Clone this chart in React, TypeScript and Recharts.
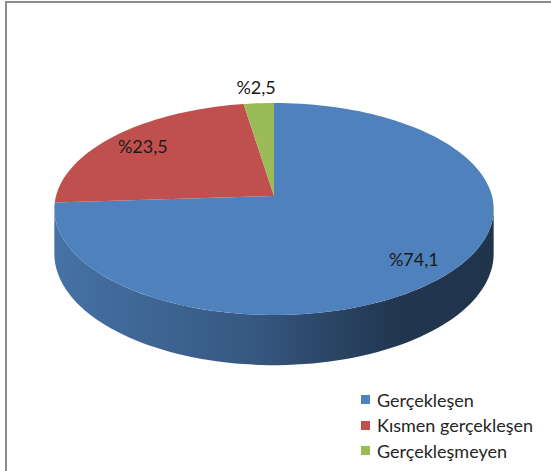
import React from 'react';
import { PieChart, Pie, Cell, Legend } from 'recharts';

const categories = ['Gerçekleşen', 'Kısmen gerçekleşen', 'Gerçekleşmeyen'];
const values = [74.1, 23.5, 2.5];
const colors = ['#4F81BD', '#C0504D', '#9BBB59'];

const data = categories.map((name, i) => ({ name, value: values[i], color: colors[i] }));

// fake 3d view: squash + a little perspective
const TILT = 0.479;
const PERSP = 0.1226;
const DEPTH = 44;
const FONT = 'Lato, "Open Sans", sans-serif';

// theta in degrees, clockwise from 12 o'clock
const project = (cx: number, cy: number, r: number, theta: number, f = 1, drop = 0) => {
  const t = (theta * Math.PI) / 180;
  const d = f * Math.cos(t);
  const k = 1 / (1 + PERSP * d);
  return [cx + r * f * Math.sin(t) * k, cy - r * TILT * d * k + drop * k];
};

const shade = (hex: string, m: number) => {
  const n = parseInt(hex.slice(1), 16);
  const c = [(n >> 16) & 255, (n >> 8) & 255, n & 255].map((v) => Math.round(v * m));
  return `rgb(${c.join(',')})`;
};

const arcPoints = (cx: number, cy: number, r: number, a: number, b: number, drop = 0) => {
  const steps = Math.max(2, Math.ceil(Math.abs(b - a) / 2));
  const pts: number[][] = [];
  for (let i = 0; i <= steps; i++) {
    pts.push(project(cx, cy, r, a + ((b - a) * i) / steps, 1, drop));
  }
  return pts;
};

const Slice3D = (props: any) => {
  const { cx, cy, outerRadius, startAngle, endAngle, fill, index } = props;
  const t0 = 90 - startAngle;
  const t1 = 90 - endAngle;
  const top = arcPoints(cx, cy, outerRadius, t0, t1);
  const topPath =
    `M${cx},${cy} ` + top.map((p) => `L${p[0].toFixed(2)},${p[1].toFixed(2)}`).join(' ') + ' Z';

  // only the front of the rim can be seen
  const edge = (Math.acos(-PERSP) * 180) / Math.PI;
  const lo = Math.max(t0, edge);
  const hi = Math.min(t1, 360 - edge);
  let side = null;
  if (lo < hi) {
    const upper = arcPoints(cx, cy, outerRadius, lo, hi);
    const lower = arcPoints(cx, cy, outerRadius, hi, lo, DEPTH);
    const pts = upper.concat(lower);
    const d = pts.map((p, i) => `${i ? 'L' : 'M'}${p[0].toFixed(2)},${p[1].toFixed(2)}`).join(' ') + ' Z';
    const id = `side-${index}`;
    side = (
      <>
        <defs>
          <linearGradient id={id} x1="0" y1="0" x2="1" y2="0">
            <stop offset="0%" stopColor={shade(fill, 0.88)} />
            <stop offset="45%" stopColor={shade(fill, 0.68)} />
            <stop offset="78%" stopColor={shade(fill, 0.42)} />
            <stop offset="100%" stopColor={shade(fill, 0.4)} />
          </linearGradient>
        </defs>
        <path d={d} fill={`url(#${id})`} stroke="none" />
      </>
    );
  }
  return (
    <g>
      {side}
      <path d={topPath} fill={fill} stroke="none" />
    </g>
  );
};

const renderLabel = (props: any) => {
  const { cx, cy, outerRadius, midAngle, value } = props;
  const f = value < 5 ? 1.2 : 0.82;
  const [x, y] = project(cx, cy, outerRadius, 90 - midAngle, f);
  return (
    <text x={x} y={y} textAnchor="middle" dominantBaseline="central" fill="#1a1a1a" fontSize={18} fontFamily={FONT}>
      {'%' + String(value).replace('.', ',')}
    </text>
  );
};

const LegendContent = ({ payload }: any) => {
  const items = [...(payload || [])].sort(
    (a: any, b: any) => categories.indexOf(a.value) - categories.indexOf(b.value)
  );
  return (
    <div style={{ fontFamily: FONT, fontSize: 18, color: '#262626' }}>
      {items.map((entry: any, i: number) => (
        <div key={`item-${i}`} style={{ display: 'flex', alignItems: 'center', height: 25.5 }}>
          <span style={{ display: 'inline-block', width: 9, height: 9, background: entry.color, marginRight: 7 }} />
          <span>{entry.value}</span>
        </div>
      ))}
    </div>
  );
};

export default function App() {
  return (
    <div style={{ position: 'relative', width: 551, height: 471, background: '#fff', overflow: 'hidden' }}>
      <style>{`body{margin:0}`}</style>
      <div
        style={{
          position: 'absolute',
          left: 5,
          top: 1,
          right: -4,
          bottom: -4,
          borderLeft: '2px solid #8c8c8c',
          borderTop: '2px solid #8c8c8c',
        }}
      />
      <div style={{ position: 'absolute', left: 0, top: 0 }}>
        <PieChart width={551} height={471} margin={{ top: 0, right: 0, bottom: 0, left: 0 }}>
          <Pie
            data={data}
            dataKey="value"
            nameKey="name"
            cx={274}
            cy={196}
            outerRadius={218}
            startAngle={90}
            endAngle={-270}
            stroke="none"
            label={renderLabel}
            labelLine={false}
            shape={Slice3D}
            activeShape={Slice3D}
            isAnimationActive={false}
          >
            {data.map((entry, index) => (
              <Cell key={`cell-${index}`} fill={entry.color} />
            ))}
          </Pie>
          <Legend
            layout="vertical"
            content={<LegendContent />}
            wrapperStyle={{ position: 'absolute', left: 361, top: 387, width: 190 }}
          />
        </PieChart>
      </div>
    </div>
  );
}
